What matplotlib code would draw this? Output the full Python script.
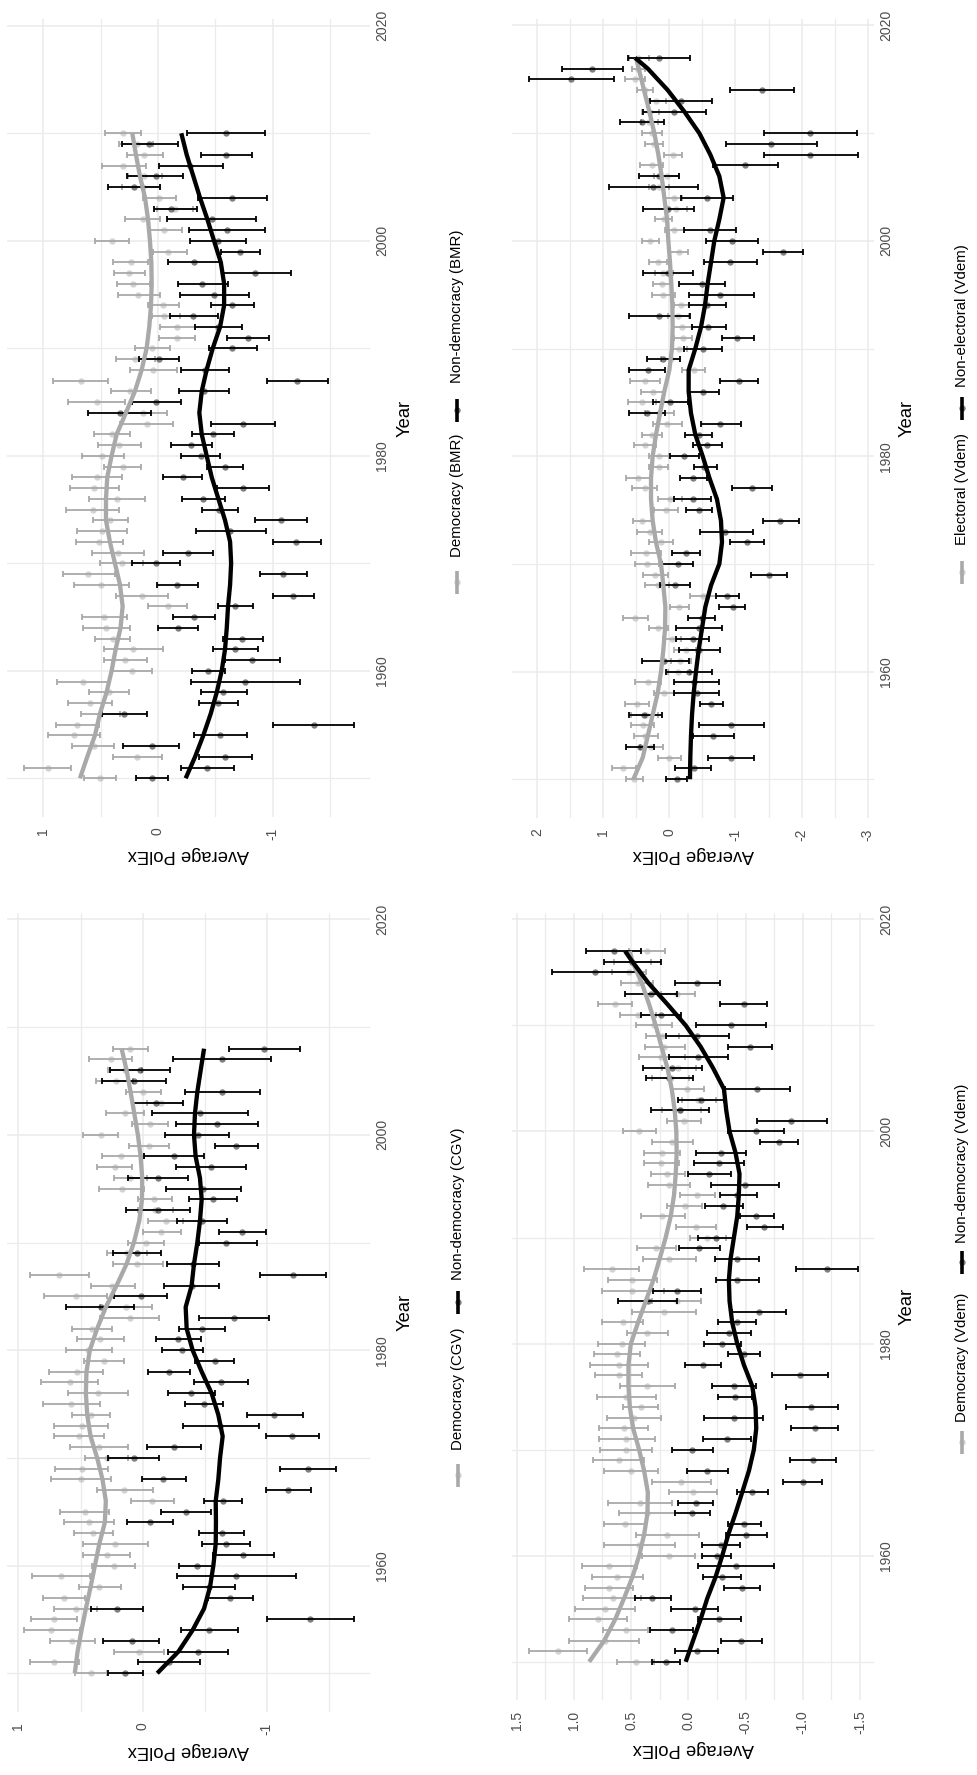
import numpy as np
import matplotlib
matplotlib.use("Agg")
import matplotlib.pyplot as plt
from matplotlib.lines import Line2D

plt.rcParams["font.family"] = ["Liberation Sans", "DejaVu Sans"]
plt.rcParams["axes.unicode_minus"] = False

# ---------------------------------------------------------------- data
# Yearly average PolEx (mean, lower, upper) by regime type, newest year first.

# BMR classification, 2010 -> 1950
bmr_years = list(range(2010, 1949, -1))
bmr_dem_mean = [.302, .186, .122, .302, .122, .128, -.009, -.148, .134, -.055,
                .401, -.090, .238, .250, .215, .172, -.041, -.052, -.163, -.163,
                .049, .201, .041, .672, .244, .535, .128, .099, .398, .340,
                .485, .308, .535, .555, .360, .570, .419, .491, .512, .352,
                .314, .608, .497, .142, -.084, .468, .453, .395, .215, .285,
                .230, .657, .427, .593, .506, .706, .733, .558, .180, .962, .506]
bmr_dem_lo = [.148, .041, -.041, .105, -.032, -.017, -.154, -.308, -.017, -.209,
              .256, -.256, .084, .110, .070, -.017, -.183, -.192, -.323, -.323,
              -.105, .026, -.163, .433, .061, .288, -.076, -.134, .244, .151,
              .297, .151, .317, .340, .113, .343, .259, .273, .302, .122,
              .128, .375, .253, -.084, -.256, .267, .244, .244, -.047, .099,
              .055, .424, .250, .404, .331, .517, .506, .381, -.032, .762, .369]
bmr_dem_hi = [.462, .337, .273, .491, .259, .317, .128, .012, .288, .090,
              .547, .041, .395, .384, .355, .349, .090, .055, -.017, -.012,
              .201, .369, .244, .913, .413, .788, .288, .331, .558, .526,
              .666, .471, .753, .767, .599, .797, .564, .709, .715, .576,
              .506, .831, .733, .366, .084, .663, .657, .547, .468, .468,
              .404, .878, .599, .782, .672, .892, .956, .747, .390, 1.169, .642]
bmr_non_mean = [-.593, .078, -.593, -.279, .020, .209, -.642, -.110, -.468, -.599,
                -.526, -.715, -.314, -.846, -.387, -.491, -.648, -.308, -.526, -.785,
                -.648, -.012, -.410, -1.209, -.401, .017, .331, -.744, -.483, -.288,
                -.372, -.584, -.215, -.738, -.395, -.535, -1.070, -.628, -1.203, -.259,
                .020, -1.093, -.169, -1.180, -.674, -.314, -.174, -.735, -.674, -.817,
                -.439, -.759, -.570, -.526, .294, -1.355, -.541, .055, -.587, -.430, .049]
bmr_non_lo = [-.933, -.177, -.817, -.564, -.221, -.017, -.953, -.337, -.855, -.933,
              -.767, -.890, -.541, -1.157, -.608, -.797, -.837, -.526, -.730, -.968,
              -.860, -.186, -.622, -1.477, -.619, -.201, .064, -1.020, -.666, -.468,
              -.541, -.744, -.381, -.971, -.587, -.695, -1.297, -.942, -1.422, -.477,
              -.192, -1.297, -.352, -1.355, -.831, -.497, -.349, -.913, -.869, -1.064,
              -.587, -1.238, -.773, -.701, .099, -1.703, -.773, -.183, -.820, -.666, -.084]
bmr_non_hi = [-.256, .317, -.378, -.006, .267, .433, -.346, .035, -.081, -.270,
              -.279, -.547, -.090, -.555, -.177, -.195, -.459, -.105, -.323, -.602,
              -.442, .163, -.201, -.948, -.180, .230, .613, -.462, -.299, -.110,
              -.201, -.424, -.047, -.512, -.206, -.381, -.846, -.328, -1.000, -.041,
              .224, -.890, .006, -1.006, -.523, -.131, .000, -.564, -.483, -.584,
              -.294, -.285, -.372, -.358, .491, -1.006, -.314, .302, -.358, -.198, .192]
bmr_curve_years = list(range(2010, 1949, -2))
bmr_dem_curve = [.224, .192, .157, .113, .087, .070, .058, .055, .061, .076, .099,
                 .142, .201, .279, .360, .404, .442, .453, .453, .419, .375,
                 .331, .308, .326, .369, .404, .448, .506, .549, .616, .680]
bmr_non_curve = [-.203, -.250, -.308, -.366, -.430, -.488, -.547, -.576, -.576, -.541, -.477,
                 -.424, -.381, -.360, -.381, -.424, -.468, -.526, -.584, -.628, -.637,
                 -.628, -.610, -.599, -.584, -.555, -.512, -.459, -.395, -.323, -.241]

# CGV classification, 2008 -> 1950
cgv_years = list(range(2008, 1949, -1))
cgv_dem_mean = [.102, .258, .142, .215, -.005, -.148, .140, -.059, .339, -.048,
                .172, .223, .102, .167, -.094, -.099, -.185, -.151, -.027, .129,
                .043, .675, .245, .538, .134, .102, .406, .344, .438, .309,
                .532, .586, .363, .573, .417, .492, .513, .352, .290, .492,
                .497, .148, -.078, .465, .433, .398, .220, .288, .234, .659,
                .349, .634, .540, .712, .734, .567, .030, .712, .419]
cgv_dem_lo = [-.046, .083, .008, .075, -.148, -.328, -.013, -.207, .199, -.212,
              -.011, .083, -.032, -.013, -.234, -.247, -.328, -.306, -.175, -.032,
              -.161, .433, .062, .285, -.073, -.134, .245, .151, .250, .151,
              .317, .358, .116, .344, .263, .277, .309, .121, .116, .277,
              .258, -.081, -.253, .272, .228, .242, -.046, .102, .062, .425,
              .177, .460, .366, .527, .505, .384, -.175, .511, .285]
cgv_dem_hi = [.242, .430, .277, .376, .134, -.032, .296, .089, .484, .113,
              .323, .366, .231, .352, .035, .035, -.040, .000, .116, .285,
              .242, .909, .419, .793, .344, .344, .565, .527, .613, .473,
              .753, .815, .599, .801, .565, .715, .715, .581, .465, .707,
              .734, .366, .094, .667, .634, .554, .478, .478, .411, .887,
              .513, .806, .715, .895, .957, .747, .228, .903, .546]
cgv_non_mean = [-.981, -.637, .022, .070, -.640, -.108, -.462, -.597, -.444, -.755,
                -.253, -.548, -.121, -.489, -.565, -.124, -.481, -.804, -.669, .048,
                -.409, -1.210, -.395, .016, .339, -.739, -.478, -.288, -.320, -.581,
                -.212, -.632, -.392, -.495, -1.062, -.624, -1.202, -.253, .073, -1.331,
                -.161, -1.175, -.645, -.347, -.059, -.637, -.672, -.812, -.435, -.755,
                -.538, -.704, .207, -1.349, -.538, .089, -.444, -.212, .142]
cgv_non_lo = [-1.269, -1.032, -.220, -.188, -.946, -.323, -.852, -.927, -.696, -.933,
              -.497, -.833, -.363, -.793, -.763, -.382, -.683, -.992, -.919, -.148,
              -.618, -1.476, -.616, -.199, .070, -1.022, -.664, -.468, -.489, -.739,
              -.382, -.852, -.583, -.651, -1.290, -.941, -1.417, -.470, -.134, -1.556,
              -.347, -1.358, -.798, -.548, -.242, -.820, -.866, -1.062, -.578, -1.237,
              -.745, -.892, .000, -1.699, -.766, -.134, -.691, -.462, .000]
cgv_non_hi = [-.694, -.247, .263, .323, -.341, .089, -.078, -.266, -.180, -.583,
              -.011, -.269, .121, -.188, -.374, .134, -.274, -.616, -.457, .242,
              -.199, -.946, -.172, .228, .613, -.457, -.293, -.105, -.153, -.422,
              -.040, -.417, -.202, -.341, -.839, -.323, -.992, -.038, .277, -1.108,
              .008, -.995, -.495, -.148, .124, -.457, -.476, -.570, -.293, -.280,
              -.323, -.524, .419, -1.000, -.309, .317, -.207, .035, .282]
cgv_curve_years = list(range(2008, 1949, -2))
cgv_dem_curve = [.169, .129, .097, .067, .038, .016, .003, .005, .027, .070,
                 .129, .210, .296, .366, .425, .452, .457, .446, .419, .366,
                 .323, .296, .304, .349, .384, .419, .457, .492, .524, .546]
cgv_non_curve = [-.495, -.468, -.441, -.422, -.414, -.427, -.462, -.476, -.462, -.441,
                 -.414, -.395, -.347, -.355, -.403, -.476, -.556, -.610, -.645, -.624,
                 -.610, -.589, -.591, -.589, -.570, -.543, -.495, -.403, -.288, -.118]

# V-Dem electoral / non-electoral regimes, 2017 -> 1950
ele_years = list(range(2017, 1949, -1))
ele_yes_mean = [.469, .479, .519, .363, .202, .287, .302, .267, .227, -.050,
                .267, .040, .151, -.065, -.101, .086, -.065, .287, -.151, .166,
                .091, .116, .091, -.176, -.136, -.191, -.212, -.151, -.025, -.368,
                .368, .252, .413, .151, .035, .267, .368, .161, .161, .469,
                .373, -.010, .050, .413, .292, .126, .353, .338, .212, .176,
                -.514, -.151, .514, .176, -.040, -.252, -.161, -.136, .327, .086,
                .494, .353, .403, .363, .277, .000, .695, .529]
ele_yes_lo = [.312, .363, .363, .242, .050, .151, .176, .116, .091, -.186,
              .101, -.151, .000, -.186, -.262, -.040, -.227, .151, -.287, .035,
              -.060, -.025, -.086, -.302, -.302, -.343, -.343, -.267, -.161, -.544,
              .136, .076, .202, -.076, -.191, .116, .202, .000, .015, .277,
              .186, -.191, -.126, .252, .111, -.050, .126, .151, .025, .000,
              -.705, -.302, .317, .025, -.176, -.403, -.327, -.317, .126, -.076,
              .312, .176, .227, .176, .101, -.176, .504, .393]
ele_yes_hi = [.615, .569, .665, .489, .327, .413, .428, .413, .363, .086,
              .438, .227, .302, .060, .060, .210, .065, .413, -.015, .302,
              .217, .252, .262, -.065, .025, -.050, -.076, -.025, .126, -.191,
              .594, .428, .630, .363, .252, .418, .529, .312, .312, .655,
              .564, .176, .227, .554, .494, .312, .579, .514, .393, .363,
              -.317, -.010, .695, .312, .091, -.076, -.025, .025, .519, .227,
              .665, .579, .579, .539, .443, .176, .872, .655]
nan = float("nan")
ele_no_mean = [.151, 1.169, 1.486, -1.401, -.176, -.065, .413, -2.126, -1.537, -2.126,
               -1.144, .161, .252, -.564, .015, nan, -.615, -.947, -1.713, -.917,
               .015, -.489, -.771, -.569, .151, -.584, -1.028, -.504, .091, .327,
               -1.048, -.509, -.015, .338, -.771, -.443, -.569, -.227, -.529, -.363,
               -1.244, -.353, -.443, -1.678, -.846, -1.169, -.252, -.126, -1.501, -.086,
               -.866, -.957, -.489, -.443, -.353, -.453, .076, -.292, -.378, -.418,
               -.630, .378, -.932, -.655, .438, -.932, -.378, -.111]
ele_no_lo = [-.317, .705, .831, -1.889, -.645, -.554, .076, -2.836, -2.227, -2.846,
             -1.642, -.151, -.428, -.957, -.368, nan, -1.008, -1.340, -2.025, -1.325,
             -.363, -.846, -1.275, -.856, -.317, -.856, -1.275, -.791, -.161, .065,
             -1.345, -.746, -.282, .065, -1.083, -.645, -.791, -.443, -.720, -.564,
             -1.552, -.630, -.645, -1.955, -1.259, -1.426, -.469, -.363, -1.778, -.317,
             -1.058, -1.149, -.690, -.791, -.605, -.766, -.292, -.645, -.756, -.756,
             -.816, .116, -1.426, -.972, .227, -1.275, -.630, -.262]
ele_no_hi = [.630, 1.622, 2.126, -.922, .287, .403, .746, -1.426, -.856, -1.426,
             -.665, .453, .917, -.176, .403, nan, -.227, -.554, -1.411, -.519,
             .403, -.151, -.292, -.302, .615, -.338, -.791, -.227, .338, .605,
             -.771, -.277, .242, .615, -.479, -.237, -.363, -.015, -.378, -.166,
             -.947, -.065, -.252, -1.411, -.463, -.917, -.035, .111, -1.234, .141,
             -.705, -.746, -.287, -.101, -.101, -.151, .413, .050, -.076, -.076,
             -.463, .615, -.453, -.353, .655, -.579, -.091, .050]
ele_curve_years = [2017] + list(range(2016, 1949, -2))
ele_yes_curve = [.504, .463, .383, .302, .227, .166, .116, .076, .035, .015, -.010,
                 -.030, -.045, -.050, -.040, .000, .076, .141, .202, .252, .277,
                 .277, .252, .202, .126, .091, .060, .065, .091, .126, .176,
                 .252, .327, .403, .544]
ele_no_curve = [.519, .327, .025, -.227, -.453, -.620, -.756, -.821, -.756, -.680, -.630,
                -.579, -.539, -.479, -.393, -.292, -.292, -.327, -.393, -.504, -.605,
                -.720, -.781, -.796, -.756, -.630, -.544, -.494, -.443, -.403, -.368,
                -.343, -.327, -.317, -.312]

# V-Dem democracy / non-democracy, 2017 -> 1950
vd_years = list(range(2017, 1949, -1))
vd_dem_mean = [.357, .488, .517, .444, .096, .642, .436, .299, .227, .212,
               .241, .087, .154, .009, -.087, .073, .038, .430, .139, .227,
               .238, .183, .168, -.073, .032, .227, -.064, -.166, .285, .168,
               .671, .488, .488, .102, .212, .575, .363, .581, .624, .604,
               .610, .357, .546, .415, .473, .566, .546, .546, .604, .497,
               .061, -.041, .421, .357, .549, .183, .430, .168, .691, .619,
               .691, .662, .726, .787, .546, .726, 1.141, .459]
vd_dem_lo = [.203, .328, .372, .308, -.058, .494, .285, .139, .081, .032,
             .032, -.070, -.006, -.137, -.238, -.113, -.113, .285, -.041, .073,
             .081, .029, -.015, -.229, -.122, .032, -.244, -.325, .110, -.064,
             .430, .276, .212, -.113, -.064, .395, .177, .378, .424, .351,
             .401, .119, .285, .261, .238, .351, .293, .319, .386, .261,
             -.195, -.247, .145, .119, .366, -.093, .119, -.058, .450, .392,
             .482, .415, .468, .532, .349, .430, .889, .299]
vd_dem_hi = [.517, .648, .668, .584, .241, .793, .595, .459, .372, .380,
             .430, .232, .314, .139, .052, .227, .183, .575, .314, .386,
             .386, .328, .349, .076, .183, .410, .110, -.012, .450, .392,
             .909, .706, .755, .314, .488, .755, .537, .787, .822, .860,
             .819, .598, .799, .575, .712, .778, .778, .773, .831, .735,
             .319, .168, .700, .604, .735, .459, .741, .401, .929, .845,
             .903, .918, .988, 1.046, .749, 1.040, 1.394, .619]
vd_non_mean = [.653, .488, .816, -.078, .328, -.485, .241, -.375, -.078, -.537,
               -.084, .139, .168, -.601, -.107, .076, -.900, -.593, -.790, -.282,
               -.267, -.180, -.491, -.427, -.305, -.595, -.665, -.238, -.093, -.421,
               -1.211, -.421, .096, .351, -.616, -.427, -.354, -.296, -.485, -.128,
               -.973, -.398, -.407, -1.075, -.398, -1.104, -.337, -.035, -1.089, -.166,
               -.999, -.558, -.064, -.035, -.488, -.505, -.282, -.253, -.412, -.296,
               -.471, .314, -.055, -.267, .145, -.462, -.073, .198]
vd_non_lo = [.410, .235, .441, -.273, .096, -.691, .061, -.674, -.354, -.732,
             -.343, -.122, -.041, -.886, -.311, -.180, -1.211, -.834, -.956, -.505,
             -.485, -.375, -.796, -.601, -.476, -.746, -.825, -.389, -.273, -.616,
             -1.478, -.616, -.113, .096, -.857, -.593, -.549, -.456, -.622, -.282,
             -1.220, -.587, -.558, -1.304, -.654, -1.307, -.543, -.215, -1.292, -.346,
             -1.168, -.697, -.218, -.189, -.636, -.683, -.447, -.375, -.752, -.456,
             -.622, .154, -.261, -.462, -.041, -.639, -.261, .076]
vd_non_hi = [.895, .741, 1.191, .119, .555, -.273, .410, -.070, .192, -.346,
             .168, .395, .372, -.317, .090, .328, -.604, -.349, -.630, -.064,
             -.049, .003, -.195, -.273, -.145, -.447, -.508, -.087, .081, -.232,
             -.944, -.238, .305, .613, -.383, -.261, -.166, -.137, -.349, .029,
             -.732, -.209, -.258, -.857, -.137, -.900, -.128, .145, -.886, .009,
             -.828, -.421, .087, .119, -.346, -.325, -.116, -.122, -.084, -.131,
             -.314, .468, .154, -.084, .334, -.288, .116, .314]
vd_curve_years = [2017] + list(range(2016, 1949, -2))
vd_dem_curve = [.511, .488, .407, .343, .285, .235, .183, .145, .119, .105, .102,
                .110, .125, .154, .198, .250, .305, .372, .439, .502, .523,
                .523, .511, .482, .430, .386, .354, .357, .386, .430, .488,
                .561, .639, .735, .866]
vd_non_curve = [.552, .488, .349, .183, .023, -.107, -.215, -.311, -.331, -.360, -.412,
                -.447, -.441, -.427, -.398, -.369, -.354, -.360, -.383, -.427, -.485,
                -.558, -.587, -.593, -.572, -.529, -.471, -.412, -.349, -.296, -.238,
                -.166, -.107, -.041, .023]

year_ticks = [1960, 1980, 2000, 2020]
year_minor = [1950, 1970, 1990, 2010]

# ---------------------------------------------------------------- drawing
W, H = 978, 1775
fig = plt.figure(figsize=(W / 100, H / 100), dpi=100)
fig.patch.set_facecolor("white")

DEM_COL = "#A9A9A9"
NON_COL = "#000000"
TICK_COL = "#4D4D4D"
GRID_COL = "#EBEBEB"


def add_px_axes(left, top, right, bottom):
    return fig.add_axes([left / W, 1 - bottom / H, (right - left) / W, (bottom - top) / H])


def draw_series(ax, years, mean, lo, hi, color, z):
    y = np.asarray(years, float)
    m = np.asarray(mean, float)
    l = np.asarray(lo, float)
    h = np.asarray(hi, float)
    ok = ~np.isnan(m)
    ax.errorbar(m[ok], y[ok], xerr=[m[ok] - l[ok], h[ok] - m[ok]], fmt="none",
                ecolor=color, elinewidth=1.3, capsize=2.4, capthick=1.3, zorder=z)
    ax.plot(m[ok], y[ok], "o", color=color, alpha=0.5, markersize=4.6,
            markeredgewidth=0, zorder=z + 1)


def legend_entry(x, y_key, y_text, color, label):
    fx, fy = x / W, 1 - y_key / H
    fig.add_artist(Line2D([fx], [fy], marker="o", markersize=4.6, markeredgewidth=0,
                          color=color, alpha=0.5, linestyle="none",
                          transform=fig.transFigure))
    fig.add_artist(Line2D([fx, fx], [fy - 11.5 / H, fy + 11.5 / H], color=color,
                          lw=2.6, solid_capstyle="butt", transform=fig.transFigure))
    fig.text(fx, 1 - y_text / H, label, rotation=90, ha="center", va="bottom",
             fontsize=10.8, color="black")


def panel(box, years, dem, non, cyears, dcurve, ncurve, xmajor, xlabels, xminor,
          ylabel_x, xlabel_y, leg_x, leg_pos, names):
    ax = add_px_axes(*box)
    for s in ax.spines.values():
        s.set_visible(False)

    lo_all = np.nanmin(np.r_[dem[1], non[1]])
    hi_all = np.nanmax(np.r_[dem[2], non[2]])
    pad = 0.05 * (hi_all - lo_all)
    ax.set_xlim(hi_all + pad, lo_all - pad)
    ax.set_ylim(1946.4, 2020.6)

    ax.set_xticks(xmajor)
    ax.set_xticks(xminor, minor=True)
    ax.set_xticklabels(xlabels, rotation=90, ha="center", va="top",
                       color=TICK_COL, fontsize=10)
    ax.yaxis.tick_right()
    ax.set_yticks(year_ticks)
    ax.set_yticks(year_minor, minor=True)
    ax.set_yticklabels([str(t) for t in year_ticks], rotation=90, ha="left",
                       va="center", color=TICK_COL, fontsize=10)
    ax.tick_params(axis="x", which="both", length=0, pad=7.5)
    ax.tick_params(axis="y", which="both", length=0, pad=3.5)
    ax.grid(which="major", color=GRID_COL, lw=1.1, zorder=0)
    ax.grid(which="minor", color=GRID_COL, lw=0.9, zorder=0)
    ax.set_axisbelow(True)

    ax.set_xlabel("Average PolEx", fontsize=13.2, rotation=180)
    ax.xaxis.set_label_coords(0.5, xlabel_y)
    ax.xaxis.label.set_va("center")
    ax.yaxis.set_label_position("right")
    ax.set_ylabel("Year", fontsize=13.2, rotation=90)
    ax.yaxis.set_label_coords(ylabel_x, 0.5)
    ax.yaxis.label.set_va("center")
    ax.yaxis.label.set_ha("center")

    draw_series(ax, years, *dem, DEM_COL, 2)
    draw_series(ax, years, *non, NON_COL, 4)
    ax.plot(dcurve, cyears, color=DEM_COL, lw=3.1, solid_joinstyle="round",
            solid_capstyle="butt", zorder=7)
    ax.plot(ncurve, cyears, color=NON_COL, lw=3.1, solid_joinstyle="round",
            solid_capstyle="butt", zorder=8)

    (k1, t1), (k2, t2) = leg_pos
    legend_entry(leg_x, k1, t1, DEM_COL, names[0])
    legend_entry(leg_x, k2, t2, NON_COL, names[1])
    return ax


ticks_1 = [-1, 0, 1]
labels_1 = ["-1", "0", "1"]
minor_1 = [-1.5, -0.5, 0.5]

panel((7.3, 19.3, 370, 817), bmr_years,
      (bmr_dem_mean, bmr_dem_lo, bmr_dem_hi), (bmr_non_mean, bmr_non_lo, bmr_non_hi),
      bmr_curve_years, bmr_dem_curve, bmr_non_curve,
      ticks_1, labels_1, minor_1, 1.0965, -0.0476, 457,
      [(582, 557), (410, 383)], ["Democracy (BMR)", "Non-democracy (BMR)"])

panel((7.3, 913, 370, 1712), cgv_years,
      (cgv_dem_mean, cgv_dem_lo, cgv_dem_hi), (cgv_non_mean, cgv_non_lo, cgv_non_hi),
      cgv_curve_years, cgv_dem_curve, cgv_non_curve,
      ticks_1, labels_1, minor_1, 1.0965, -0.0476, 458,
      [(1475, 1450), (1302, 1280)], ["Democracy (CGV)", "Non-democracy (CGV)"])

panel((512.3, 19, 874, 818), ele_years,
      (ele_yes_mean, ele_yes_lo, ele_yes_hi), (ele_no_mean, ele_no_lo, ele_no_hi),
      ele_curve_years, ele_yes_curve, ele_no_curve,
      [-3, -2, -1, 0, 1, 2], ["-3", "-2", "-1", "0", "1", "2"],
      [-2.5, -1.5, -0.5, 0.5, 1.5], 1.0912, -0.0463, 962,
      [(572, 545), (408, 387)], ["Electoral (Vdem)", "Non-electoral (Vdem)"])

panel((512.3, 913, 874, 1700), vd_years,
      (vd_dem_mean, vd_dem_lo, vd_dem_hi), (vd_non_mean, vd_non_lo, vd_non_hi),
      vd_curve_years, vd_dem_curve, vd_non_curve,
      [-1.5, -1.0, -0.5, 0.0, 0.5, 1.0, 1.5],
      ["-1.5", "-1.0", "-0.5", "0.0", "0.5", "1.0", "1.5"],
      [-1.25, -0.75, -0.25, 0.25, 0.75, 1.25], 1.0912, -0.061, 962,
      [(1442, 1422), (1262, 1243)], ["Democracy (Vdem)", "Non-democracy (Vdem)"])

fig.savefig("out.png", dpi=100, facecolor="white")
